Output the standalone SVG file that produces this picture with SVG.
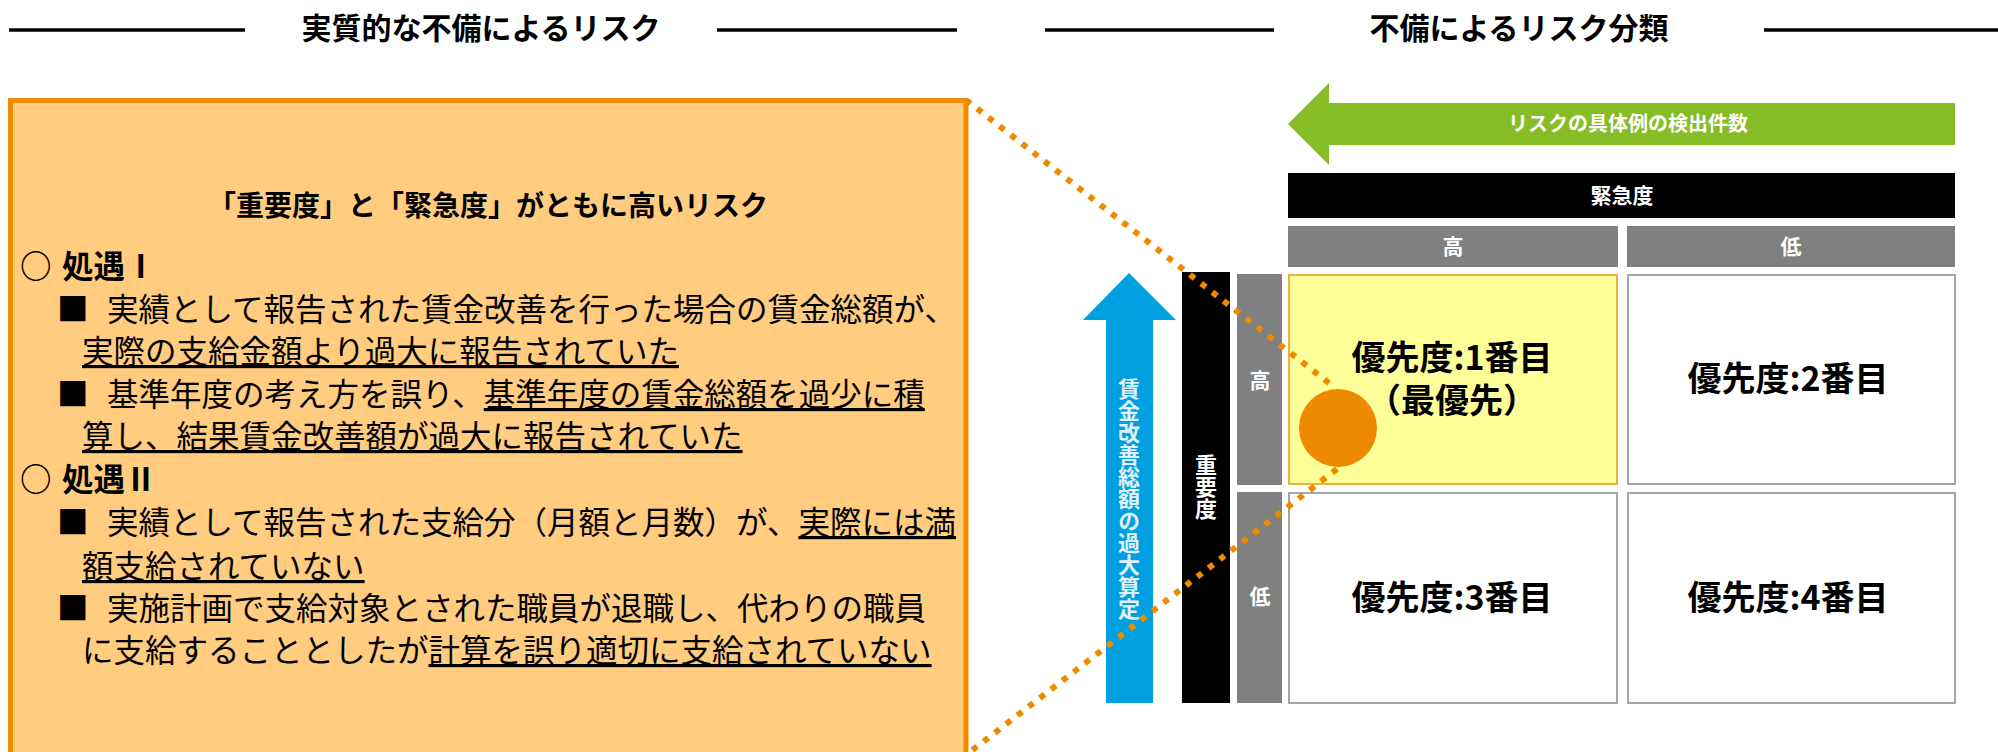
<svg xmlns="http://www.w3.org/2000/svg" width="1998" height="752" viewBox="0 0 1998 752">
<style>
text{font-family:"Noto Sans CJK JP","Noto Sans",sans-serif;}
.title{font-size:30px;font-weight:bold;fill:#000;text-anchor:middle;}
.rule{stroke:#000;stroke-width:3.5;}
.head{font-size:28px;font-weight:bold;fill:#000;text-anchor:middle;}
.body{font-size:31.5px;fill:#000;}
.sec{font-size:31.5px;font-weight:bold;fill:#000;}
.u{text-decoration:underline;}
.w{fill:#fff;font-weight:bold;text-anchor:middle;}
.vt{writing-mode:vertical-rl;text-anchor:middle;font-weight:bold;}
.cell{fill:#fff;stroke:#a6a6a6;stroke-width:2;}
.gray{fill:#808080;}
.ct{font-size:34px;font-weight:bold;fill:#000;text-anchor:middle;}
.dot{fill:none;stroke:#ee8a00;stroke-width:6;stroke-dasharray:6 8.2;}
</style>

<g id="title-left">
  <line class="rule" x1="9" y1="30" x2="245" y2="30"/>
  <text class="title" x="481" y="39">実質的な不備によるリスク</text>
  <line class="rule" x1="717" y1="30" x2="957" y2="30"/>
</g>

<g id="title-right">
  <line class="rule" x1="1045" y1="30" x2="1274" y2="30"/>
  <text class="title" x="1519" y="39">不備によるリスク分類</text>
  <line class="rule" x1="1764" y1="30" x2="1998" y2="30"/>
</g>

<g id="risk-box">
  <rect x="10.5" y="100.5" width="955.5" height="670" fill="#ffcc80" stroke="#f08c00" stroke-width="5"/>
  <text class="head" x="488" y="216">「重要度」と「緊急度」がともに高いリスク</text>
  <text class="sec" y="278"><tspan x="20">○</tspan><tspan x="62">処遇Ⅰ</tspan></text>
  <text class="body" y="321"><tspan x="57">■</tspan><tspan x="107">実績として報告された賃金改善を行った場合の賃金総額が、</tspan></text>
  <text class="body" y="363"><tspan x="82" class="u">実際の支給金額より過大に報告されていた</tspan></text>
  <text class="body" y="406"><tspan x="57">■</tspan><tspan x="107">基準年度の考え方を誤り、</tspan><tspan class="u">基準年度の賃金総額を過少に積</tspan></text>
  <text class="body" y="448"><tspan x="82" class="u">算し、結果賃金改善額が過大に報告されていた</tspan></text>
  <text class="sec" y="491"><tspan x="20">○</tspan><tspan x="62">処遇Ⅱ</tspan></text>
  <text class="body" y="534"><tspan x="57">■</tspan><tspan x="107">実績として報告された支給分（月額と月数）が、</tspan><tspan class="u">実際には満</tspan></text>
  <text class="body" y="578"><tspan x="82" class="u">額支給されていない</tspan></text>
  <text class="body" y="620"><tspan x="57">■</tspan><tspan x="107">実施計画で支給対象とされた職員が退職し、代わりの職員</tspan></text>
  <text class="body" y="662"><tspan x="82">に支給することとしたが</tspan><tspan class="u">計算を誤り適切に支給されていない</tspan></text>
</g>

<g id="count-arrow">
  <polygon points="1288,124 1329,83 1329,103 1955,103 1955,145 1329,145 1329,165" fill="#86bc25"/>
  <text class="w" x="1628" y="131" font-size="20">リスクの具体例の検出件数</text>
</g>

<g id="amount-arrow">
  <polygon points="1129,273 1176,320 1153,320 1153,703 1106,703 1106,320 1083,320" fill="#00a0e0"/>
  <text class="vt" x="1129" y="499" font-size="22" fill="#dff2fb">賃金改善総額の過大算定</text>
</g>

<g id="urgency-header">
  <rect x="1288" y="173" width="667" height="45" fill="#000"/>
  <text class="w" x="1622" y="203" font-size="21">緊急度</text>
</g>

<g id="urgency-high">
  <rect class="gray" x="1288" y="226" width="330" height="41"/>
  <text class="w" x="1453" y="254" font-size="21">高</text>
</g>

<g id="urgency-low">
  <rect class="gray" x="1627" y="226" width="328" height="41"/>
  <text class="w" x="1791" y="254" font-size="21">低</text>
</g>

<g id="importance-header">
  <rect x="1182" y="272" width="48" height="431" fill="#000"/>
  <text class="vt" x="1206" y="487" font-size="22" fill="#fff">重要度</text>
</g>

<g id="importance-high">
  <rect class="gray" x="1237" y="274" width="45" height="211"/>
  <text class="w" x="1260" y="388" font-size="21">高</text>
</g>

<g id="importance-low">
  <rect class="gray" x="1237" y="492" width="45" height="211"/>
  <text class="w" x="1260" y="604" font-size="21">低</text>
</g>

<g id="cell-1">
  <rect x="1289" y="275" width="328" height="209" fill="#ffff99" stroke="#f0b040" stroke-width="2"/>
  <text class="ct" x="1452" y="370">優先度:1番目</text>
  <text class="ct" x="1452" y="413">（最優先）</text>
</g>

<g id="cell-2">
  <rect class="cell" x="1628" y="275" width="327" height="209"/>
  <text class="ct" x="1788" y="391">優先度:2番目</text>
</g>

<g id="cell-3">
  <rect class="cell" x="1289" y="493" width="328" height="210"/>
  <text class="ct" x="1452" y="610">優先度:3番目</text>
</g>

<g id="cell-4">
  <rect class="cell" x="1628" y="493" width="327" height="210"/>
  <text class="ct" x="1788" y="610">優先度:4番目</text>
</g>

<g id="marker-circle">
  <circle cx="1338" cy="428" r="39" fill="#ee8a00"/>
</g>

<g id="connectors">
  <line class="dot" x1="966" y1="100" x2="1334" y2="387"/>
  <line class="dot" x1="1337" y1="469" x2="966" y2="755"/>
</g>
</svg>
